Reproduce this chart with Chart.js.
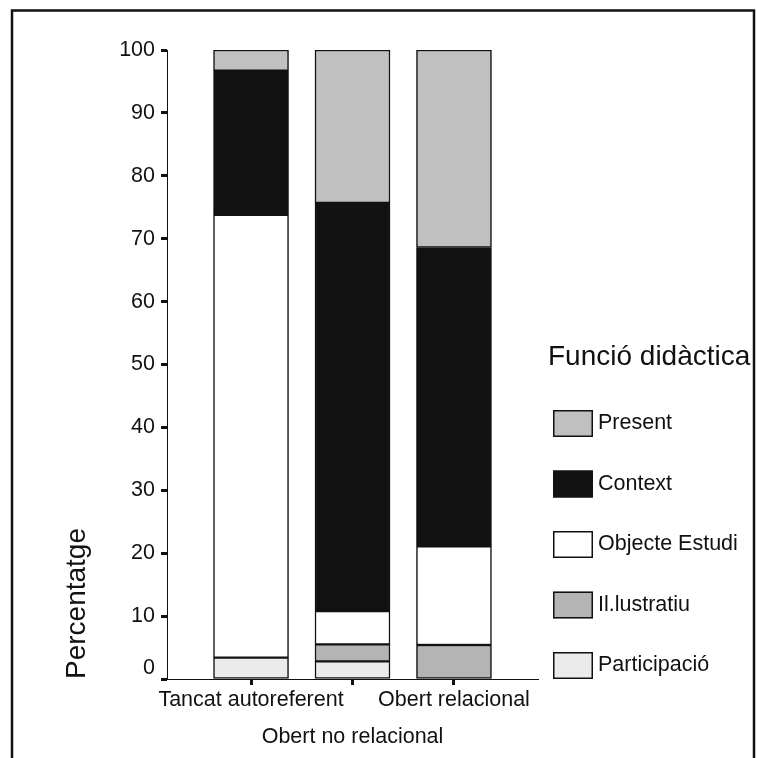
<!DOCTYPE html>
<html>
<head>
<meta charset="utf-8">
<script src="https://cdn.jsdelivr.net/npm/chart.js@4/dist/chart.umd.min.js"></script>
<style>
  html, body { margin: 0; padding: 0; background: #fff; }
  #wrap { position: relative; width: 757px; height: 758px; }
</style>
</head>
<body>
<div id="wrap"><canvas id="chart"></canvas></div>
<script>
// Categories on the x axis
const categories = ['Tancat autoreferent', 'Obert no relacional', 'Obert relacional'];

// Percentages per didactic function (stacked bottom to top)
const participacio = [3.4, 2.8, 0];
const illustratiu  = [0, 2.7, 5.4];
const objecte      = [70.4, 5.3, 15.7];
const context      = [22.9, 64.9, 47.5];
const present      = [3.3, 24.3, 31.4];

// Value axis ticks
const yTicks = [0, 10, 20, 30, 40, 50, 60, 70, 80, 90, 100];

const legendTitle = 'Funció didàctica';
const yTitle = 'Percentatge';

const FONT = "'Liberation Sans', Arial, sans-serif";
const INK = '#111111';

const seriesDefs = [
  { label: 'Participació',   values: participacio, color: '#ebebeb' },
  { label: 'Il.lustratiu',   values: illustratiu,  color: '#b4b4b4' },
  { label: 'Objecte Estudi', values: objecte,      color: '#ffffff' },
  { label: 'Context',        values: context,      color: '#121212' },
  { label: 'Present',        values: present,      color: '#c0c0c0' }
];

const datasets = seriesDefs.map(s => ({
  label: s.label,
  data: categories.map((c, i) => ({ x: i + 1, y: s.values[i] })),
  backgroundColor: s.color,
  borderColor: INK,
  borderWidth: 1.5,
  borderSkipped: false,
  barThickness: 75,
  grouped: false
}));

// Frame around the figure and the legend on the right
const decorations = {
  id: 'decorations',
  afterDraw(chart) {
    const ctx = chart.ctx;
    ctx.save();

    // frame (open at the bottom)
    ctx.strokeStyle = INK;
    ctx.lineWidth = 2.5;
    ctx.beginPath();
    ctx.moveTo(12, 770);
    ctx.lineTo(12, 10.5);
    ctx.lineTo(754, 10.5);
    ctx.lineTo(754, 770);
    ctx.stroke();

    // legend title
    ctx.fillStyle = INK;
    ctx.textBaseline = 'middle';
    ctx.textAlign = 'left';
    ctx.font = `28px ${FONT}`;
    ctx.fillText(legendTitle, 548, 357);

    // legend entries, top series first
    const items = chart.data.datasets.slice().reverse();
    ctx.font = `21.5px ${FONT}`;
    items.forEach((ds, i) => {
      const by = 410 + i * 60.5;
      ctx.fillStyle = ds.backgroundColor;
      ctx.fillRect(553, by, 40, 27);
      ctx.strokeStyle = INK;
      ctx.lineWidth = 1.5;
      ctx.strokeRect(553.75, by + 0.75, 38.5, 25.5);
      ctx.fillStyle = INK;
      ctx.fillText(ds.label, 598, by + 13.5);
    });
    ctx.restore();
  }
};

new Chart(document.getElementById('chart'), {
  type: 'bar',
  data: { datasets },
  options: {
    responsive: true,
    maintainAspectRatio: false,
    animation: false,
    layout: { padding: { left: 0, top: 50, right: 219, bottom: 0 } },
    plugins: {
      legend: { display: false },
      tooltip: { enabled: false }
    },
    scales: {
      x: {
        type: 'linear',
        offset: false,
        min: 0.172,
        max: 3.828,
        afterBuildTicks: axis => { axis.ticks = categories.map((c, i) => ({ value: i + 1 })); },
        afterFit: axis => { axis.height = 79; },
        grid: {
          offset: false,
          drawOnChartArea: false,
          drawTicks: true,
          tickLength: 6,
          tickWidth: 3,
          tickColor: INK
        },
        border: { display: true, color: INK, width: 1 },
        ticks: {
          autoSkip: false,
          maxRotation: 0,
          minRotation: 0,
          padding: -3.5,
          color: INK,
          font: { family: FONT, size: 21.5, lineHeight: '37px' },
          callback: v => {
            const i = Math.round(v) - 1;
            const name = categories[i];
            if (name === undefined) return '';
            return i % 2 === 1 ? ['', name] : name;
          }
        }
      },
      y: {
        stacked: true,
        min: 0,
        max: 100,
        afterBuildTicks: axis => { axis.ticks = yTicks.map(v => ({ value: v })); },
        afterFit: axis => { axis.width = 167; },
        grid: {
          drawOnChartArea: false,
          drawTicks: true,
          tickLength: 6,
          tickWidth: 3,
          tickColor: INK
        },
        border: { display: true, color: INK, width: 1 },
        ticks: {
          padding: 6,
          color: INK,
          font: { family: FONT, size: 21.5, lineHeight: 1.0 },
          callback: v => (v === 0 ? ['0', ''] : String(v))
        },
        title: {
          display: true,
          text: yTitle,
          align: 'start',
          color: INK,
          font: { family: FONT, size: 28 },
          padding: { top: 60, bottom: 0 }
        }
      }
    }
  },
  plugins: [decorations]
});
</script>
</body>
</html>
